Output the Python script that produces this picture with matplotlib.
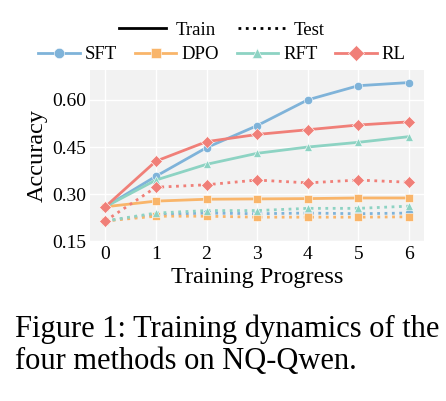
import matplotlib
matplotlib.use("Agg")
import matplotlib.pyplot as plt
from matplotlib.lines import Line2D

plt.rcParams['font.family'] = ['Liberation Serif', 'DejaVu Serif']

# Data
steps = [0, 1, 2, 3, 4, 5, 6]
methods = ['SFT', 'DPO', 'RFT', 'RL']
colors = ['#7fb3d9', '#f9b56a', '#8dd3c3', '#f07f78']
markers = ['o', 's', '^', 'D']

train_sft = [0.26, 0.357, 0.448, 0.518, 0.600, 0.645, 0.655]
train_dpo = [0.26, 0.278, 0.284, 0.285, 0.286, 0.288, 0.288]
train_rft = [0.26, 0.345, 0.395, 0.430, 0.450, 0.465, 0.483]
train_rl = [0.26, 0.405, 0.467, 0.490, 0.505, 0.520, 0.530]

test_sft = [0.215, 0.235, 0.240, 0.238, 0.240, 0.238, 0.240]
test_dpo = [0.215, 0.230, 0.230, 0.227, 0.227, 0.227, 0.228]
test_rft = [0.215, 0.240, 0.248, 0.248, 0.255, 0.255, 0.262]
test_rl = [0.215, 0.322, 0.330, 0.345, 0.336, 0.345, 0.338]

train = [train_sft, train_dpo, train_rft, train_rl]
test = [test_sft, test_dpo, test_rft, test_rl]

fig = plt.figure(figsize=(4.46, 4.01), dpi=100)
ax = fig.add_axes([0.202, 0.3965, 0.749, 0.429])
ax.set_facecolor('#f2f2f2')
ax.grid(True, color='white', linewidth=1.0)
ax.set_axisbelow(True)
for s in ax.spines.values():
    s.set_visible(False)

msize = {'o': 6, 's': 6, '^': 6, 'D': 6.5}
for tr, te, c, m in zip(train, test, colors, markers):
    ax.plot(steps, te, linestyle=':', color=c, marker=m, markersize=msize[m],
            linewidth=2, markeredgecolor='white', markeredgewidth=0.4)
    ax.plot(steps, tr, linestyle='-', color=c, marker=m, markersize=msize[m],
            linewidth=2, markeredgecolor='white', markeredgewidth=0.4)

ax.set_xlim(-0.3, 6.3)
ax.set_ylim(0.148, 0.695)
ax.set_xticks(steps)
ax.set_yticks([0.15, 0.30, 0.45, 0.60])
ax.set_yticklabels(['0.15', '0.30', '0.45', '0.60'])
ax.tick_params(length=0, labelsize=14, pad=3)
ax.set_xlabel('Training Progress', fontsize=17.5, labelpad=3)
ax.set_ylabel('Accuracy', fontsize=17.5, labelpad=3)

style_handles = [Line2D([0], [0], color='black', linestyle='-', linewidth=2),
                 Line2D([0], [0], color='black', linestyle=':', linewidth=2)]
leg1 = fig.legend(style_handles, ['Train', 'Test'], loc='center',
                  bbox_to_anchor=(0.498, 0.925), ncol=2, frameon=False,
                  fontsize=13.5, handlelength=2.5, columnspacing=1.2,
                  handletextpad=0.48, borderpad=0)

method_handles = [Line2D([0], [0], color=c, marker=m, linewidth=2,
                         markersize=msize[m] + 1.5,
                         markeredgecolor='white', markeredgewidth=0.4)
                  for c, m in zip(colors, markers)]
fig.legend(method_handles, methods, loc='center', bbox_to_anchor=(0.498, 0.863),
           ncol=4, frameon=False, fontsize=13.5, handlelength=2.2,
           columnspacing=0.96, handletextpad=0.27, borderpad=0)

fig.text(0.034, 0.160, 'Figure 1: Training dynamics of the',
         fontsize=22, ha='left', va='baseline')
fig.text(0.034, 0.080, 'four methods on NQ-Qwen.',
         fontsize=22, ha='left', va='baseline')

fig.savefig('out.png', dpi=100)
